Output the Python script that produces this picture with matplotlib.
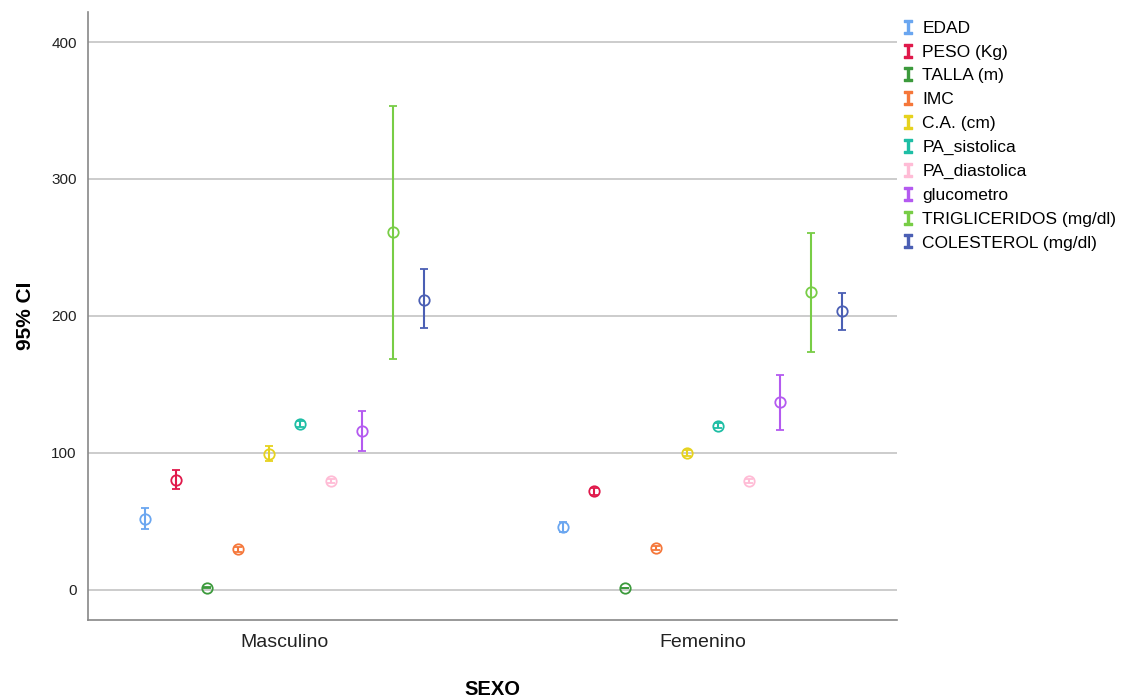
import numpy as np
import matplotlib
matplotlib.use("Agg")
import matplotlib.pyplot as plt
from matplotlib.lines import Line2D

plt.rcParams['font.family'] = ['Liberation Sans', 'DejaVu Sans']

# data: mean and 95% CI per variable, for Masculino / Femenino
groups = ['Masculino', 'Femenino']
variables = ['EDAD', 'PESO (Kg)', 'TALLA (m)', 'IMC', 'C.A. (cm)', 'PA_sistolica',
             'PA_diastolica', 'glucometro', 'TRIGLICERIDOS (mg/dl)', 'COLESTEROL (mg/dl)']
colors = ['#6aa6f0', '#e0194b', '#3c9a3c', '#f5773a', '#e6d21e', '#1ebea5',
          '#ffbcd6', '#b45af0', '#78cd46', '#4b5fb4']

mean_m = [51.5, 80.0, 1.7, 29.5, 99.0, 121.0, 79.5, 116.0, 261.0, 212.0]
low_m = [44.5, 73.5, 1.5, 28.0, 94.0, 119.0, 78.0, 101.5, 168.5, 191.0]
high_m = [60.0, 87.5, 1.9, 31.0, 105.0, 123.0, 81.0, 130.5, 353.5, 234.0]

mean_f = [46.0, 72.0, 1.6, 30.5, 100.0, 120.0, 79.5, 137.0, 217.5, 203.5]
low_f = [42.5, 69.5, 1.5, 29.0, 98.0, 118.0, 78.0, 117.0, 174.0, 190.0]
high_f = [49.5, 74.5, 1.7, 32.0, 102.0, 122.0, 81.0, 157.0, 260.5, 217.0]

means = [mean_m, mean_f]
lows = [low_m, low_f]
highs = [high_m, high_f]

fig = plt.figure(figsize=(11.25, 6.98), dpi=100)
ax = fig.add_axes([0.0782, 0.1117, 0.719, 0.8713])

step = 0.074
offsets = (np.arange(len(variables)) - (len(variables) - 1) / 2) * step

for g in range(len(groups)):
    for i, var in enumerate(variables):
        m = means[g][i]
        lo = lows[g][i]
        hi = highs[g][i]
        ax.errorbar(g + offsets[i], m, yerr=[[m - lo], [hi - m]], fmt='o',
                    color=colors[i], mfc='none', mec=colors[i], ms=7.5, mew=1.3,
                    elinewidth=1.5, capsize=3.2, capthick=1.5, zorder=3)

ax.set_xlim(-0.468, 1.463)
ax.set_ylim(-22, 422)
ax.set_yticks([0, 100, 200, 300, 400])
ax.set_xticks([0, 1])
ax.set_xticklabels(groups, fontsize=14, color='#222222')
ax.tick_params(axis='y', labelsize=11, length=0, pad=8, labelcolor='#222222')
ax.tick_params(axis='x', length=0, pad=10)
ax.yaxis.grid(True, color='#c4c4c4', linewidth=1.2, zorder=0)
ax.set_axisbelow(True)
for s in ['top', 'right']:
    ax.spines[s].set_visible(False)
for s in ['left', 'bottom']:
    ax.spines[s].set_color('#888888')
    ax.spines[s].set_linewidth(1.2)

ax.set_ylabel('95% CI', fontsize=15, fontweight='bold', labelpad=12)
ax.set_xlabel('SEXO', fontsize=14.5, fontweight='bold', labelpad=21)

handles = [Line2D([], [], linestyle='none', marker=r'$\mathtt{I}$', color=c, ms=10)
           for c in colors]
ax.legend(handles, variables, loc='upper left', bbox_to_anchor=(0.997, 0.997),
          frameon=False, fontsize=12.5, handlelength=0.8, handletextpad=0.4,
          labelspacing=0.5, borderaxespad=0.0)

fig.savefig('out.png', dpi=100)
